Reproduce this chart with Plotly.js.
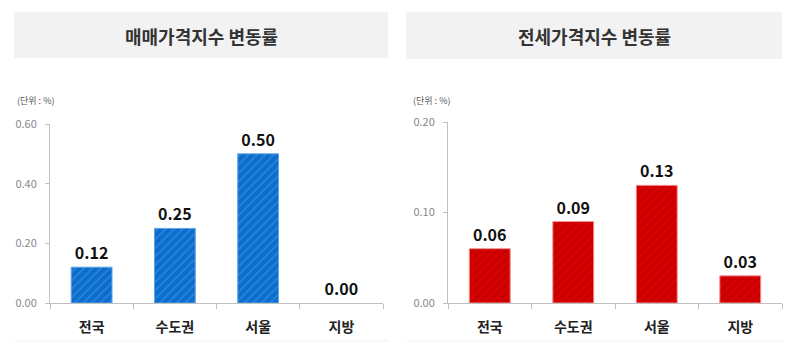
<!DOCTYPE html>
<html><head><meta charset="utf-8">
<script src="https://cdn.plot.ly/plotly-3.0.1.min.js"></script>
<style>html,body{margin:0;padding:0;background:#fff}#chart{width:799px;height:355px}</style>
</head><body><div id="chart"></div>
<script>
const categories = ['전국', '수도권', '서울', '지방'];
const saleValues = [0.12, 0.25, 0.50, 0.00];
const jeonseValues = [0.06, 0.09, 0.13, 0.03];
const saleTicks = [0, 0.2, 0.4, 0.6];
const jeonseTicks = [0, 0.1, 0.2];
const saleTitle = '매매가격지수 변동률';
const jeonseTitle = '전세가격지수 변동률';
const unitLabel = '(단위 : %)';

const W = 799, H = 355;
const px = x => x / W, py = y => 1 - y / H;
const numFont = 'Noto Sans CJK KR, sans-serif';
const korFont = 'Noto Sans CJK KR, sans-serif';

function barTrace(vals, color, fg, line, xa, ya) {
  return {
    type: 'bar', x: categories, y: vals, xaxis: xa, yaxis: ya,
    marker: { color: color, line: { color: line, width: vals.map(v => v === 0 ? 0 : 1) },
      pattern: { shape: '/', bgcolor: color, fgcolor: fg, size: 6, solidity: 0.25 } },
    texttemplate: '<b>%{y:.2f}</b>', textposition: 'outside', cliponaxis: false,
    textfont: { family: numFont, size: 16, color: '#111' },
    hoverinfo: 'skip'
  };
}

const data = [
  barTrace(saleValues, '#0b6dcc', '#2f86dc', '#5fa2e8', 'x', 'y'),
  barTrace(jeonseValues, '#d60000', '#bc0000', '#f29090', 'x2', 'y2')
];

function xax(d0, d1, anchor) {
  return { domain: [px(d0), px(d1)], anchor: anchor, type: 'category',
    showline: true, linecolor: '#c0c0c0', linewidth: 1,
    ticks: 'outside', tickson: 'boundaries', ticklen: 5, tickcolor: '#c0c0c0',
    tickfont: { family: korFont, size: 14, color: '#222', weight: 'bold' },
    ticklabelstandoff: 11, showgrid: false, zeroline: false, fixedrange: true };
}
function yax(top, ticks, anchor) {
  return { domain: [py(303), py(top)], anchor: anchor, range: [0, ticks[ticks.length - 1]],
    tickvals: ticks, tickformat: '.2f', showline: true, linecolor: '#c0c0c0', linewidth: 1,
    ticks: 'outside', ticklen: 4, tickcolor: '#c0c0c0', showgrid: false, zeroline: false,
    tickfont: { family: korFont, size: 11, color: '#888' },
    ticklabelstandoff: 6, fixedrange: true };
}

const layout = {
  width: W, height: H, margin: { l: 0, r: 0, t: 0, b: 0 },
  paper_bgcolor: '#fff', plot_bgcolor: '#fff', showlegend: false, bargap: 0.51,
  xaxis: xax(50, 383, 'y'), yaxis: yax(124, saleTicks, 'x'),
  xaxis2: xax(448, 782, 'y2'), yaxis2: yax(122, jeonseTicks, 'x2'),
  shapes: [
    { type: 'rect', xref: 'paper', yref: 'paper', x0: px(14), x1: px(388), y0: py(12), y1: py(58), fillcolor: '#f2f2f2', line: { width: 0 }, layer: 'below' },
    { type: 'rect', xref: 'paper', yref: 'paper', x0: px(406), x1: px(782), y0: py(12), y1: py(59), fillcolor: '#f2f2f2', line: { width: 0 }, layer: 'below' },
    { type: 'line', xref: 'paper', yref: 'paper', x0: px(14), x1: px(388), y0: py(341), y1: py(341), line: { color: '#f0f0f0', width: 1 } },
    { type: 'line', xref: 'paper', yref: 'paper', x0: px(406), x1: px(782), y0: py(341), y1: py(341), line: { color: '#f0f0f0', width: 1 } }
  ],
  annotations: [
    { xref: 'paper', yref: 'paper', x: px(201), y: py(36), text: '<b>' + saleTitle + '</b>', showarrow: false, xanchor: 'center', yanchor: 'middle', font: { family: korFont, size: 18, color: '#333' } },
    { xref: 'paper', yref: 'paper', x: px(594), y: py(36), text: '<b>' + jeonseTitle + '</b>', showarrow: false, xanchor: 'center', yanchor: 'middle', font: { family: korFont, size: 18, color: '#333' } },
    { xref: 'paper', yref: 'paper', x: px(15), y: py(100), text: unitLabel, showarrow: false, xanchor: 'left', yanchor: 'middle', font: { family: korFont, size: 9, color: '#555' } },
    { xref: 'paper', yref: 'paper', x: px(411), y: py(100), text: unitLabel, showarrow: false, xanchor: 'left', yanchor: 'middle', font: { family: korFont, size: 9, color: '#555' } }
  ]
};

Plotly.newPlot('chart', data, layout, { displayModeBar: false, staticPlot: true });
</script></body></html>
